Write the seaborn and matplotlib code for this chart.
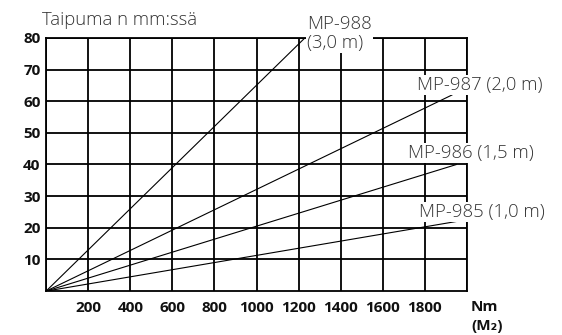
import numpy as np
import pandas as pd
import matplotlib
matplotlib.use("Agg")
import matplotlib.pyplot as plt
import seaborn as sns

# ================= DATA =================

MODELS = ["MP-988", "MP-987", "MP-986", "MP-985"]
LABELS = ["MP-988\n(3,0 m)", "MP-987 (2,0 m)", "MP-986 (1,5 m)", "MP-985 (1,0 m)"]
END_NM = [1230, 1930, 1950, 1950]      # torque at line end
END_MM = [80, 62, 40, 22]              # deflection at line end
X_TICKS = [200, 400, 600, 800, 1000, 1200, 1400, 1600, 1800]
Y_TICKS = [10, 20, 30, 40, 50, 60, 70, 80]

rows = []
for m, x1, y1 in zip(MODELS, END_NM, END_MM):
    rows.append({"model": m, "Nm": 0, "mm": 0})
    rows.append({"model": m, "Nm": x1, "mm": y1})
df = pd.DataFrame(rows)

# ================= PLOT =================

sns.set_theme(style="white")
plt.rcParams["font.family"] = ["Open Sans", "DejaVu Sans"]

fig = plt.figure(figsize=(5.62, 3.35), dpi=100)
ax = fig.add_axes([0.082, 0.131, 0.749, 0.756])

sns.lineplot(data=df, x="Nm", y="mm", units="model", estimator=None,
             color="black", linewidth=0.8, ax=ax, zorder=3)

ax.set_xlim(0, 2000)
ax.set_ylim(0, 80)
ax.set_xticks(np.arange(0, 2001, 200), minor=True)
ax.set_xticks(X_TICKS)
ax.set_yticks(Y_TICKS)
ax.grid(True, which="both", color="black", linewidth=1.3)
ax.tick_params(axis="x", length=0, labelsize=11, pad=7)
ax.tick_params(axis="y", length=0, labelsize=11, pad=4)
for lbl in ax.get_xticklabels() + ax.get_yticklabels():
    lbl.set_fontweight("bold")
    lbl.set_color("#111111")
for s in ax.spines.values():
    s.set_color("black")
    s.set_linewidth(1.3)
ax.set_xlabel("")
ax.set_ylabel("")

# curve labels
label_pos = [(1240, 81.4), (1762, 65.1), (1720, 43.6), (1772, 25.0)]
for text, (x, y) in zip(LABELS, label_pos):
    ax.text(x, y, text, ha="left", va="center", fontsize=13.3, color="#333333",
            fontweight="light", linespacing=1.05, zorder=4, clip_on=False,
            bbox=dict(facecolor="white", edgecolor="none", pad=0.5))

fig.text(0.075, 0.94, "Taipuma n mm:ssä", fontsize=13.3, color="#333333",
         fontweight="light", ha="left", va="center")
fig.text(0.838, 0.054, "Nm\n(M\u2082)", fontsize=11, fontweight="bold",
         color="#111111", ha="left", va="center", linespacing=1.45)

fig.savefig("out.png", dpi=100)
